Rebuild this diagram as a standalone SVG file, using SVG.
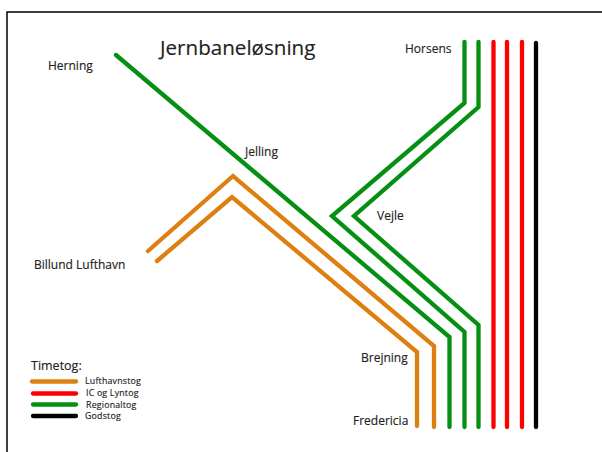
<svg xmlns="http://www.w3.org/2000/svg" width="602" height="452" viewBox="0 0 602 452">
<style>
text{font-family:"Open Sans","Noto Sans",sans-serif;fill:#222;stroke:#222;stroke-width:.15}
.s{font-size:12px}
.l{font-size:8.800px;letter-spacing:.2px}
.r{fill:none;stroke-width:4.300;stroke-linecap:round;stroke-linejoin:miter}
.o{stroke:#dd8011}.g{stroke:#069013}.d{stroke:#fd0000}.k{stroke:#000}
</style>
<rect width="602" height="452" fill="#fff"/>
<path d="M7 452V12H602" fill="none" stroke="#000" stroke-width="1.5"/>
<g id="connectors">
<path class="r g" d="M116 55L449.500 337V427"/>
<path class="r g" d="M464.500 42V103L332 216L464.500 332V427"/>
<path class="r g" d="M478.500 42V107L354 216L478.500 325V427"/>
<path class="r o" d="M148 251L233 176L434 346V427"/>
<path class="r o" d="M157 261L232 197L417 352V426"/>
<path class="r d" d="M493.500 42V427"/>
<path class="r d" d="M507 42V427"/>
<path class="r d" d="M522 42V427"/>
<path class="r k" d="M536 43V427"/>
</g>
<g id="title"><text x="160" y="55" style="font-size:20.600px">Jernbaneløsning</text></g>
<g id="herning"><text class="s" x="48" y="70">Herning</text></g>
<g id="jelling"><text class="s" x="245" y="156">Jelling</text></g>
<g id="billund"><text class="s" x="34" y="269">Billund Lufthavn</text></g>
<g id="horsens"><text class="s" x="405" y="53">Horsens</text></g>
<g id="vejle"><text class="s" x="377" y="220">Vejle</text></g>
<g id="brejning"><text class="s" x="361" y="362">Brejning</text></g>
<g id="fredericia"><text class="s" x="353" y="425">Fredericia</text></g>
<g id="legend">
<text x="31" y="370" style="font-size:12.500px">Timetog:</text>
<path class="r o" d="M32 381.500H76"/>
<path class="r d" d="M33 393.500H76"/>
<path class="r g" d="M33 404.500H76"/>
<path class="r k" d="M33 416H76"/>
<text class="l" x="85" y="384">Lufthavnstog</text>
<text class="l" x="86" y="395.500">IC og Lyntog</text>
<text class="l" x="86" y="407.500">Regionaltog</text>
<text class="l" x="85" y="419">Godstog</text>
</g>
</svg>
